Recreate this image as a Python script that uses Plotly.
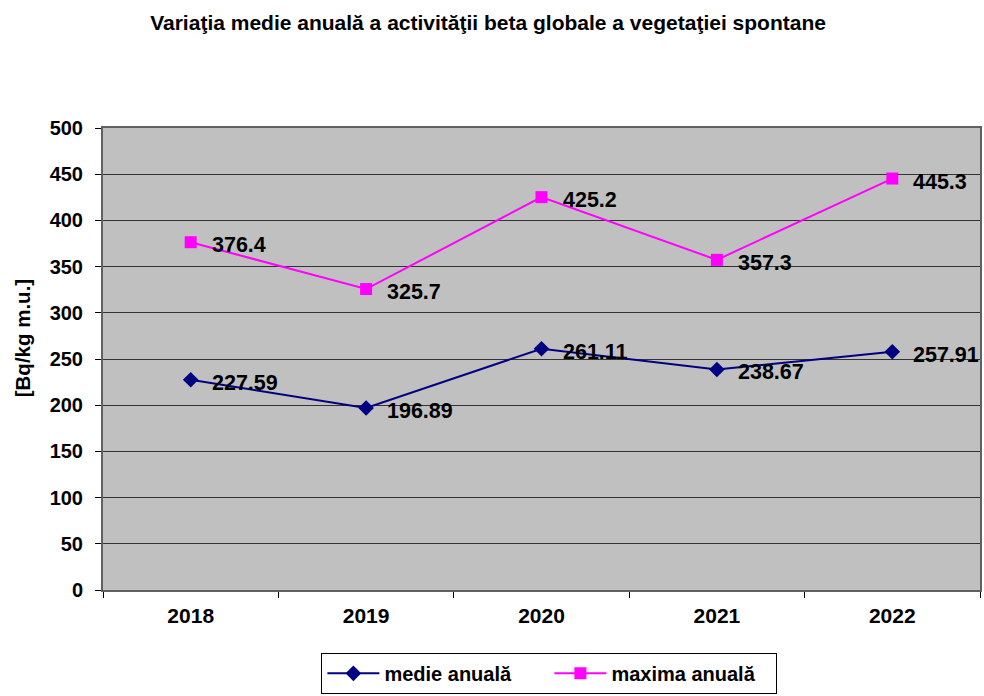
import plotly.graph_objects as go

# Annual beta activity of spontaneous vegetation
years = ["2018", "2019", "2020", "2021", "2022"]
medie_anuala = [227.59, 196.89, 261.11, 238.67, 257.91]
maxima_anuala = [376.4, 325.7, 425.2, 357.3, 445.3]
y_ticks = [0, 50, 100, 150, 200, 250, 300, 350, 400, 450, 500]

FONT = "Liberation Sans, Arial, sans-serif"

fig = go.Figure()

fig.add_trace(go.Scatter(
    x=years, y=medie_anuala, name="medie anuală",
    mode="lines+markers",
    line=dict(color="#000080", width=2),
    marker=dict(symbol="diamond", size=12, color="#000080"),
))
fig.add_trace(go.Scatter(
    x=years, y=maxima_anuala, name="maxima anuală",
    mode="lines+markers",
    line=dict(color="#FF00FF", width=2),
    marker=dict(symbol="square", size=12, color="#FF00FF"),
))

# value labels to the right of each point (x given as category index)
for series in (medie_anuala, maxima_anuala):
    for i, v in enumerate(series):
        fig.add_annotation(
            x=i, y=v, xref="x", yref="y", text=str(v), showarrow=False,
            xanchor="left", yanchor="middle", xshift=19, yshift=-3,
            font=dict(family=FONT, size=21.5, color="black", weight="bold"),
        )

# plot area in pixels, used to place the rotated caption
plot_h = 696 - 128 - 104
plot_w = 984 - 103 - 2

fig.add_annotation(
    x=(22 - 103) / plot_w, y=(696 - 104 - 339) / plot_h,
    xref="paper", yref="paper", xanchor="center", yanchor="middle",
    text="[Bq/kg m.u.]", textangle=-90, showarrow=False,
    font=dict(family=FONT, size=20.5, color="black", weight="bold"),
)

fig.update_layout(
    width=984, height=696,
    margin=dict(l=103, r=2, t=128, b=104),
    paper_bgcolor="white",
    plot_bgcolor="#C0C0C0",
    title=dict(
        text="Variaţia medie anuală a activităţii beta globale a vegetaţiei spontane",
        x=0.496, xanchor="center", y=0.968, yanchor="middle",
        font=dict(family=FONT, size=21, color="black", weight="bold"),
    ),
    showlegend=True,
    legend=dict(
        orientation="h", x=0.509, xanchor="center", y=-0.136, yanchor="top",
        font=dict(family=FONT, size=20, color="black", weight="bold"),
        bordercolor="black", borderwidth=1, bgcolor="white",
        itemwidth=52, entrywidth=160,
    ),
)

fig.update_xaxes(
    type="category", range=[-0.5, 4.5],
    tickson="boundaries", ticks="outside", ticklen=6, tickcolor="black",
    ticklabelstandoff=6,
    showline=True, linecolor="#606060", linewidth=2, mirror=True,
    showgrid=False,
    tickfont=dict(family=FONT, size=21, color="black", weight="bold"),
    fixedrange=True,
)
fig.update_yaxes(
    range=[0, 500], tickvals=y_ticks,
    ticks="outside", ticklen=6, tickcolor="black",
    ticklabelstandoff=8,
    showline=True, linecolor="#606060", linewidth=2, mirror=True,
    showgrid=True, gridcolor="#333333", gridwidth=1,
    zeroline=False,
    tickfont=dict(family=FONT, size=20, color="black", weight="bold"),
    fixedrange=True,
)

fig.write_html("out.html")
